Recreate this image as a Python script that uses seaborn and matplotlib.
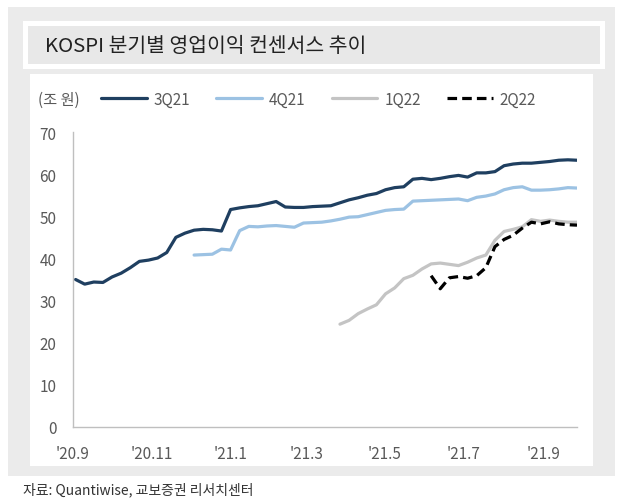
import numpy as np
import pandas as pd
import matplotlib
matplotlib.use("Agg")
from matplotlib import pyplot as plt
from matplotlib.patches import Rectangle
import seaborn as sns

# weekly consensus, 56 observations from early Sep 2020 to late Sep 2021
dates = pd.date_range("2020-09-03", "2021-09-27", periods=56)
q3_21 = [35.0, 33.9, 34.4, 34.3, 35.6, 36.5, 37.8, 39.3, 39.6, 40.1,
         41.4, 45.0, 46.0, 46.7, 46.9, 46.8, 46.5, 51.6, 52.0, 52.3,
         52.5, 53.0, 53.5, 52.2, 52.1, 52.1, 52.3, 52.4, 52.5, 53.2,
         53.9, 54.4, 55.0, 55.4, 56.3, 56.8, 57.0, 58.8, 59.0, 58.7,
         59.0, 59.4, 59.7, 59.3, 60.3, 60.3, 60.6, 62.0, 62.4, 62.6,
         62.6, 62.8, 63.0, 63.3, 63.4, 63.3]
q4_21 = [None] * 13 + [
         40.8, 40.9, 41.0, 42.2, 42.0, 46.6, 47.6, 47.5, 47.7, 47.8,
         47.6, 47.4, 48.4, 48.5, 48.6, 48.9, 49.3, 49.8, 49.9, 50.4,
         50.9, 51.4, 51.6, 51.7, 53.6, 53.7, 53.8, 53.9, 54.0, 54.1,
         53.7, 54.5, 54.8, 55.3, 56.3, 56.8, 57.0, 56.2, 56.2, 56.3,
         56.5, 56.8, 56.7]
q1_22 = [None] * 29 + [
         24.4, 25.3, 26.9, 28.0, 29.0, 31.6, 33.0, 35.2, 36.0, 37.5,
         38.7, 38.9, 38.6, 38.3, 39.1, 40.1, 40.8, 44.3, 46.4, 46.9,
         47.5, 49.2, 48.8, 49.1, 48.8, 48.6, 48.6]
q2_22 = [None] * 39 + [
         35.9, 32.8, 35.4, 35.7, 35.3, 35.9, 37.8, 42.8, 44.5, 45.5,
         47.2, 48.6, 48.2, 48.7, 48.2, 48.0, 47.9]

series_names = ["3Q21", "4Q21", "1Q22", "2Q22"]
tick_dates = pd.to_datetime(["2020-09-01", "2020-11-01", "2021-01-01", "2021-03-01",
                             "2021-05-01", "2021-07-01", "2021-09-01"])
tick_labels = ["'20.9", "'20.11", "'21.1", "'21.3", "'21.5", "'21.7", "'21.9"]

df = pd.DataFrame({"date": dates, "3Q21": q3_21, "4Q21": q4_21,
                   "1Q22": q1_22, "2Q22": q2_22})
long = df.melt(id_vars="date", var_name="series", value_name="value").dropna()

sns.set_theme(style="white")
plt.rcParams["font.family"] = ["Noto Sans CJK KR", "DejaVu Sans"]

W, H = 630, 502
fig = plt.figure(figsize=(W / 100, H / 100), dpi=100)


def box(x, y, w, h, color):
    fig.patches.append(Rectangle((x / W, 1 - (y + h) / H), w / W, h / H,
                                 transform=fig.transFigure, color=color,
                                 zorder=-10, lw=0))


box(8, 8, 607, 469, "#ebebeb")
box(23, 22, 582, 48, "white")
box(28, 27, 572, 38, "#e8e8e8")
box(30, 75, 563, 392, "white")

fig.text(45 / W, 1 - 47 / H, "KOSPI 분기별 영업이익 컨센서스 추이", fontsize=14.7,
         color="#222222", va="center", ha="left")
fig.text(23 / W, 1 - 490 / H, "자료: Quantiwise, 교보증권 리서치센터", fontsize=10,
         color="#333333", va="center", ha="left")

ax = fig.add_axes([73 / W, 1 - 428 / H, 504 / W, 295 / H])
ax.patch.set_alpha(0)

colors = {"3Q21": "#1f3f60", "4Q21": "#9cc2e3", "1Q22": "#c4c4c4", "2Q22": "#000000"}
dashes = {"3Q21": "", "4Q21": "", "1Q22": "", "2Q22": (3, 1.6)}
sns.lineplot(data=long, x="date", y="value", hue="series", style="series",
             hue_order=series_names, style_order=series_names,
             palette=colors, dashes=dashes, linewidth=2.3, ax=ax, legend=True)

ax.set_xlim(pd.Timestamp("2020-09-01"), dates[-1])
ax.set_ylim(0, 70)
ax.set_yticks(range(0, 71, 10))
ax.set_xticks(tick_dates)
ax.set_xticklabels(tick_labels)
ax.set_xlabel("")
ax.set_ylabel("")
for s in ["top", "right"]:
    ax.spines[s].set_visible(False)
for s in ["left", "bottom"]:
    ax.spines[s].set_color("#bfbfbf")
    ax.spines[s].set_linewidth(1)
ax.tick_params(axis="both", direction="in", length=4, width=1, color="#bfbfbf",
               labelsize=11, labelcolor="#595959")
ax.tick_params(axis="x", pad=13)
ax.tick_params(axis="y", pad=12)

handles, labels = ax.get_legend_handles_labels()
ax.get_legend().remove()
fig.legend(handles, labels, loc="center left", bbox_to_anchor=(101 / W, 1 - 100 / H),
           ncol=4, frameon=False, fontsize=11, handlelength=3.0, handletextpad=0.45,
           columnspacing=1.7, borderpad=0, borderaxespad=0, labelcolor="#595959")
fig.text(38 / W, 1 - 100 / H, "(조 원)", fontsize=11, color="#595959",
         va="center", ha="left")

fig.savefig("out.png", dpi=100)
